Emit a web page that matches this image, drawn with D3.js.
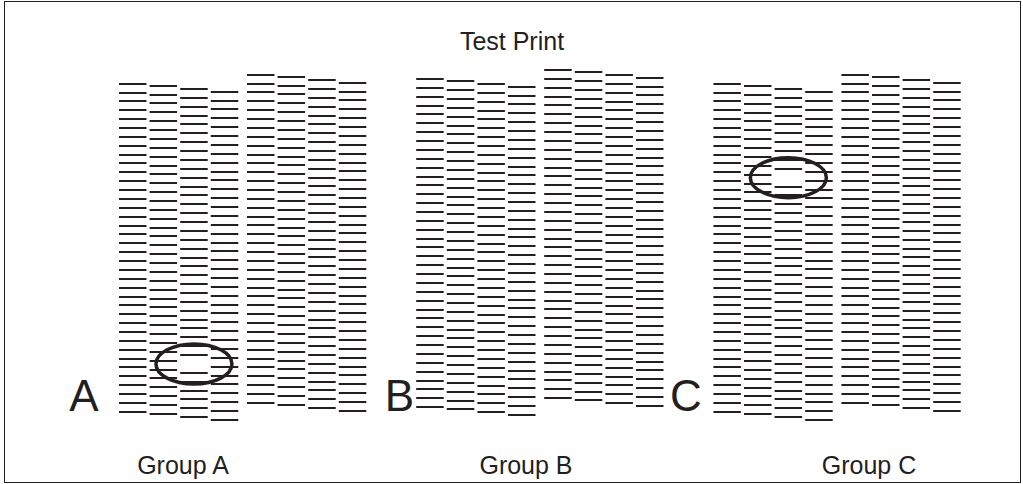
<!DOCTYPE html>
<html lang="en">
<head>
    <meta charset="UTF-8">
    <title>Test Print</title>
    <style>
        body { margin: 0; background: #fff; }
        text { font-family: "Liberation Sans", Arial, sans-serif; fill: #231f20; }
        .dashes line { stroke: #231f20; stroke-width: 2; }
    </style>
</head>
<body>
    <script src="https://cdn.jsdelivr.net/npm/d3@7"></script>
    <script>
        var width = 1023;
        var height = 484;

        // groups of print heads
        var groups = ["A", "B", "C"];
        var groupLabels = ["Group A", "Group B", "Group C"];
        // start of each column in nozzle rows (8 columns per group)
        var startA = [1.01, 1.24, 1.61, 1.92, 0, 0.23, 0.6, 0.9];
        var startB = [0.48, 0.74, 1.04, 1.35, -0.53, -0.27, 0.03, 0.34];
        var startC = [1.01, 1.27, 1.61, 1.95, 0, 0.26, 0.6, 0.9];
        var nozzles = 38;
        // missing nozzle (circled): group, column, row
        var missing = [
            { group: "A", col: 2, row: 31 },
            { group: "C", col: 2, row: 10 }
        ];
        var starts = { A: startA, B: startB, C: startC };

        var svg = d3.select("body")
                    .append("svg")
                    .attr("width", width)
                    .attr("height", height);

        svg.append("rect")
            .attr("x", 4.5).attr("y", 1.5)
            .attr("width", 1016).attr("height", 481)
            .attr("fill", "none")
            .attr("stroke", "#231f20")
            .attr("stroke-width", 1);

        var x = d3.scaleBand().domain(groups).range([119, 119 + 3 * 297.2]);
        var xCol = d3.scaleLinear().domain([0, 7]).range([0, 7 * 30.6]);
        var y = d3.scaleLinear().domain([0, 40]).range([74.7, 74.7 + 40 * 8.87]);
        var dashLen = 27.5;
        var splitGap = 5.6;
        // where the big letters sit, left of each group
        var letterX = [84, 399.5, 686];

        function colX(g, c) {
            return x(g) + xCol(c) + (c >= 4 ? splitGap : 0);
        }
        function isMissing(g, c, r) {
            return missing.some(function(m) { return m.group === g && m.col === c && m.row === r; });
        }

        var dashes = [];
        groups.forEach(function(g) {
            starts[g].forEach(function(s, c) {
                for (var r = 0; r < nozzles; r++) {
                    if (!isMissing(g, c, r)) dashes.push({ g: g, c: c, v: s + r });
                }
            });
        });

        svg.append("g")
            .attr("class", "dashes")
            .selectAll("line")
            .data(dashes)
            .enter()
            .append("line")
            .attr("x1", function(d) { return colX(d.g, d.c); })
            .attr("x2", function(d) { return colX(d.g, d.c) + dashLen; })
            .attr("y1", function(d) { return Math.round(y(d.v)); })
            .attr("y2", function(d) { return Math.round(y(d.v)); });

        // circles round the missing nozzles
        svg.append("g")
            .selectAll("ellipse")
            .data(missing)
            .enter()
            .append("ellipse")
            .attr("cx", function(d) { return colX(d.group, d.col) + dashLen / 2; })
            .attr("cy", function(d) { return y(starts[d.group][d.col] + d.row); })
            .attr("rx", 38)
            .attr("ry", 20)
            .attr("fill", "none")
            .attr("stroke", "#231f20")
            .attr("stroke-width", 3.5);

        // big letters next to each group
        svg.append("g")
            .selectAll("text")
            .data(groups)
            .enter()
            .append("text")
            .attr("x", function(d, i) { return letterX[i]; })
            .attr("y", 411)
            .attr("text-anchor", "middle")
            .attr("font-size", 44)
            .text(function(d) { return d; });

        svg.append("g")
            .selectAll("text")
            .data(groupLabels)
            .enter()
            .append("text")
            .attr("x", function(d, i) { return 183 + i * 343; })
            .attr("y", 474)
            .attr("text-anchor", "middle")
            .attr("font-size", 25)
            .text(function(d) { return d; });

        svg.append("text")
            .attr("x", 512)
            .attr("y", 50)
            .attr("text-anchor", "middle")
            .attr("font-size", 25)
            .text("Test Print");
    </script>
</body>
</html>
